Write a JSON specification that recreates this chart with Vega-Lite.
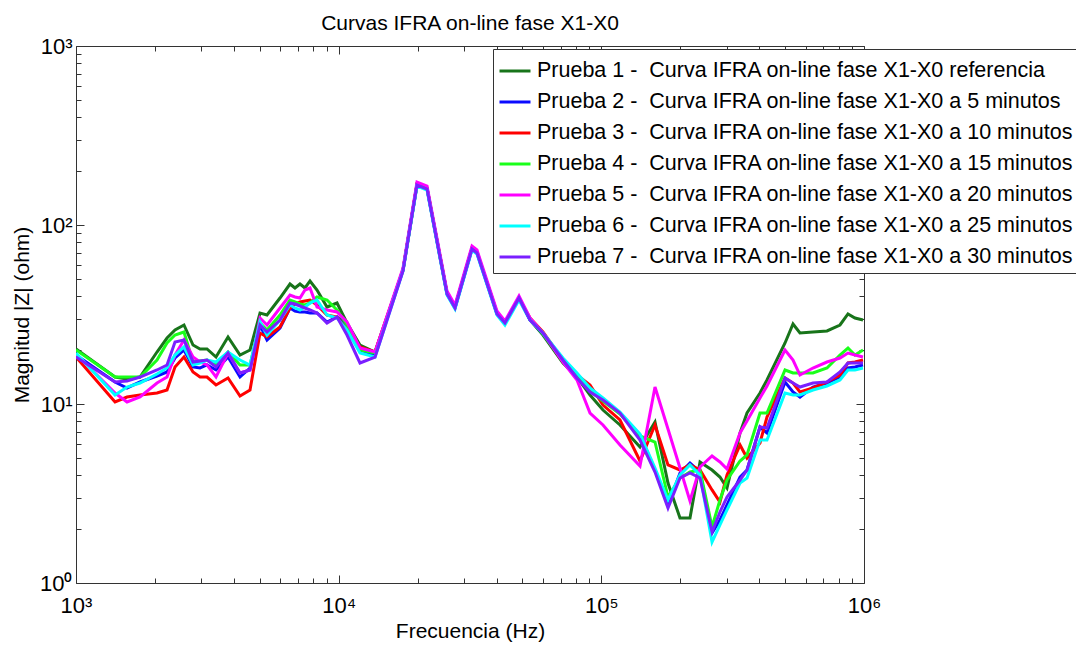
{
  "$schema": "https://vega.github.io/schema/vega-lite/v6.json",
  "width": 788,
  "height": 537,
  "autosize": {"type": "none"},
  "padding": {"left": 76, "top": 46, "right": 212, "bottom": 64},
  "background": "white",
  "config": {"view": {"stroke": null}, "font": "Liberation Sans"},
  "title": {"text": "Curvas IFRA on-line fase X1-X0", "fontSize": 21, "fontWeight": "normal", "anchor": "middle", "frame": "group", "baseline": "alphabetic", "offset": -16, "color": "#000"},
  "datasets": {
    "nombres": [
      {"k": "p1", "serie": "Prueba 1 - \u00a0Curva IFRA on-line fase X1-X0 referencia"},
      {"k": "p2", "serie": "Prueba 2 - \u00a0Curva IFRA on-line fase X1-X0 a 5 minutos"},
      {"k": "p3", "serie": "Prueba 3 - \u00a0Curva IFRA on-line fase X1-X0 a 10 minutos"},
      {"k": "p4", "serie": "Prueba 4 - \u00a0Curva IFRA on-line fase X1-X0 a 15 minutos"},
      {"k": "p5", "serie": "Prueba 5 - \u00a0Curva IFRA on-line fase X1-X0 a 20 minutos"},
      {"k": "p6", "serie": "Prueba 6 - \u00a0Curva IFRA on-line fase X1-X0 a 25 minutos"},
      {"k": "p7", "serie": "Prueba 7 - \u00a0Curva IFRA on-line fase X1-X0 a 30 minutos"}
    ],
    "curvas": [
      {"f": 1000, "p1": 20.29, "p2": 18.78, "p3": 18.30, "p4": 20.03, "p5": 19.03, "p6": 19.27, "p7": 18.30},
      {"f": 1408, "p1": 14.15, "p2": 13.27, "p3": 10.26, "p4": 14.15, "p5": 11.52, "p6": 11.23, "p7": 13.27},
      {"f": 1564, "p1": 13.79, "p2": 12.29, "p3": 10.94, "p4": 14.15, "p5": 10.26, "p6": 12.44, "p7": 13.44},
      {"f": 1753, "p1": 14.15, "p2": 13.27, "p3": 11.23, "p4": 14.15, "p5": 10.94, "p6": 13.10, "p7": 14.15},
      {"f": 2034, "p1": 19.52, "p2": 14.34, "p3": 11.52, "p4": 17.61, "p5": 13.10, "p6": 14.71, "p7": 15.49},
      {"f": 2221, "p1": 23.37, "p2": 15.09, "p3": 11.97, "p4": 21.92, "p5": 14.15, "p6": 15.89, "p7": 16.52},
      {"f": 2382, "p1": 25.91, "p2": 18.07, "p3": 16.10, "p4": 24.29, "p5": 18.78, "p6": 18.78, "p7": 22.20},
      {"f": 2577, "p1": 27.63, "p2": 20.03, "p3": 18.30, "p4": 25.25, "p5": 22.78, "p6": 20.82, "p7": 22.78},
      {"f": 2789, "p1": 21.36, "p2": 16.10, "p3": 15.09, "p4": 17.16, "p5": 18.30, "p6": 16.52, "p7": 17.16},
      {"f": 2966, "p1": 20.29, "p2": 15.89, "p3": 14.15, "p4": 17.39, "p5": 17.16, "p6": 16.95, "p7": 17.39},
      {"f": 3153, "p1": 20.29, "p2": 16.52, "p3": 14.15, "p4": 17.61, "p5": 16.52, "p6": 17.61, "p7": 17.61},
      {"f": 3412, "p1": 18.30, "p2": 15.49, "p3": 12.77, "p4": 16.52, "p5": 14.15, "p6": 17.16, "p7": 16.10},
      {"f": 3791, "p1": 23.68, "p2": 18.30, "p3": 13.97, "p4": 19.52, "p5": 19.27, "p6": 19.52, "p7": 19.27},
      {"f": 4211, "p1": 18.78, "p2": 14.15, "p3": 11.08, "p4": 16.52, "p5": 14.90, "p6": 17.61, "p7": 14.90},
      {"f": 4597, "p1": 20.03, "p2": 15.89, "p3": 11.97, "p4": 16.52, "p5": 15.49, "p6": 16.52, "p7": 15.49},
      {"f": 5018, "p1": 32.24, "p2": 27.63, "p3": 24.93, "p4": 28.35, "p5": 30.23, "p6": 28.71, "p7": 27.63},
      {"f": 5336, "p1": 31.42, "p2": 22.78, "p3": 23.68, "p4": 25.91, "p5": 27.63, "p6": 24.29, "p7": 25.25},
      {"f": 5979, "p1": 39.10, "p2": 26.58, "p3": 26.93, "p4": 31.42, "p5": 34.38, "p6": 29.46, "p7": 29.46},
      {"f": 6526, "p1": 46.81, "p2": 34.38, "p3": 34.38, "p4": 38.11, "p5": 40.64, "p6": 35.73, "p7": 36.66},
      {"f": 6818, "p1": 44.47, "p2": 33.08, "p3": 36.19, "p4": 37.14, "p5": 39.61, "p6": 34.38, "p7": 36.19},
      {"f": 7124, "p1": 46.81, "p2": 32.66, "p3": 37.14, "p4": 36.19, "p5": 39.10, "p6": 33.51, "p7": 35.28},
      {"f": 7443, "p1": 44.47, "p2": 32.66, "p3": 37.62, "p4": 35.73, "p5": 43.34, "p6": 34.82, "p7": 34.38},
      {"f": 7779, "p1": 48.66, "p2": 32.24, "p3": 38.11, "p4": 36.66, "p5": 44.47, "p6": 36.66, "p7": 33.51},
      {"f": 8271, "p1": 43.34, "p2": 32.24, "p3": 35.73, "p4": 39.61, "p5": 34.82, "p6": 38.11, "p7": 32.24},
      {"f": 9028, "p1": 34.82, "p2": 28.71, "p3": 31.42, "p4": 38.11, "p5": 33.51, "p6": 31.42, "p7": 28.35},
      {"f": 9856, "p1": 36.66, "p2": 30.62, "p3": 30.62, "p4": 33.51, "p5": 32.66, "p6": 30.23, "p7": 30.62},
      {"f": 10757, "p1": 28.35, "p2": 27.63, "p3": 25.91, "p4": 27.63, "p5": 28.71, "p6": 25.91, "p7": 24.29},
      {"f": 12056, "p1": 21.36, "p2": 20.03, "p3": 20.82, "p4": 20.03, "p5": 20.55, "p6": 19.27, "p7": 16.95},
      {"f": 13755, "p1": 19.52, "p2": 18.78, "p3": 19.52, "p4": 19.27, "p5": 19.52, "p6": 18.30, "p7": 18.30},
      {"f": 17579, "p1": 56.05, "p2": 56.05, "p3": 56.05, "p4": 56.05, "p5": 57.51, "p6": 55.34, "p7": 55.34},
      {"f": 19870, "p1": 169.45, "p2": 167.29, "p3": 169.45, "p4": 167.29, "p5": 173.87, "p6": 165.15, "p7": 167.29},
      {"f": 21697, "p1": 160.96, "p2": 158.90, "p3": 160.96, "p4": 160.96, "p5": 165.15, "p6": 156.87, "p7": 158.90},
      {"f": 25848, "p1": 41.70, "p2": 41.16, "p3": 41.70, "p4": 41.70, "p5": 42.78, "p6": 40.64, "p7": 41.16},
      {"f": 27728, "p1": 34.82, "p2": 34.38, "p3": 34.82, "p4": 34.82, "p5": 35.73, "p6": 33.94, "p7": 34.38},
      {"f": 32183, "p1": 74.39, "p2": 73.44, "p3": 74.39, "p4": 74.39, "p5": 76.33, "p6": 72.50, "p7": 73.44},
      {"f": 33617, "p1": 70.66, "p2": 69.75, "p3": 70.66, "p4": 70.66, "p5": 72.50, "p6": 68.86, "p7": 69.75},
      {"f": 40061, "p1": 32.24, "p2": 31.83, "p3": 32.24, "p4": 32.24, "p5": 33.08, "p6": 31.42, "p7": 31.83},
      {"f": 42960, "p1": 28.35, "p2": 28.35, "p3": 28.35, "p4": 28.35, "p5": 29.09, "p6": 27.63, "p7": 28.35},
      {"f": 48588, "p1": 39.10, "p2": 39.10, "p3": 39.10, "p4": 39.10, "p5": 40.12, "p6": 38.11, "p7": 39.10},
      {"f": 53510, "p1": 29.46, "p2": 29.46, "p3": 30.23, "p4": 29.46, "p5": 30.23, "p6": 29.46, "p7": 29.46},
      {"f": 59966, "p1": 24.29, "p2": 24.61, "p3": 25.25, "p4": 24.61, "p5": 24.93, "p6": 24.93, "p7": 24.93},
      {"f": 71450, "p1": 16.95, "p2": 17.61, "p3": 17.61, "p4": 17.39, "p5": 17.16, "p6": 18.07, "p7": 17.61},
      {"f": 80780, "p1": 14.15, "p2": 14.52, "p3": 14.52, "p4": 14.34, "p5": 13.62, "p6": 14.90, "p7": 13.97},
      {"f": 90560, "p1": 11.23, "p2": 11.97, "p3": 12.77, "p4": 11.82, "p5": 8.906, "p6": 12.29, "p7": 11.67},
      {"f": 101460, "p1": 9.257, "p2": 10.53, "p3": 9.872, "p4": 10.39, "p5": 7.633, "p6": 10.80, "p7": 10.53},
      {"f": 117760, "p1": 7.633, "p2": 8.906, "p3": 8.140, "p4": 8.793, "p5": 5.901, "p6": 9.022, "p7": 8.906},
      {"f": 140350, "p1": 5.751, "p2": 6.711, "p3": 4.804, "p4": 6.626, "p5": 4.504, "p6": 6.798, "p7": 6.293},
      {"f": 160070, "p1": 7.933, "p2": 4.278, "p3": 7.633, "p4": 6.133, "p5": 12.44, "p6": 4.390, "p7": 4.170},
      {"f": 179380, "p1": 3.619, "p2": 2.727, "p3": 4.563, "p4": 3.023, "p5": 7.250, "p6": 2.909, "p7": 2.624},
      {"f": 199290, "p1": 2.307, "p2": 4.116, "p3": 4.278, "p4": 3.860, "p5": 4.390, "p6": 4.012, "p7": 3.860},
      {"f": 217530, "p1": 2.307, "p2": 4.681, "p3": 4.563, "p4": 4.170, "p5": 2.871, "p6": 4.563, "p7": 4.116},
      {"f": 237500, "p1": 4.742, "p2": 4.170, "p3": 4.278, "p4": 4.278, "p5": 4.447, "p6": 4.012, "p7": 3.860},
      {"f": 263900, "p1": 4.278, "p2": 1.903, "p3": 3.312, "p4": 2.055, "p5": 5.123, "p6": 1.695, "p7": 1.927},
      {"f": 282900, "p1": 3.910, "p2": 2.249, "p3": 2.835, "p4": 2.909, "p5": 4.742, "p6": 2.109, "p7": 2.493},
      {"f": 300900, "p1": 3.394, "p2": 2.727, "p3": 4.012, "p4": 3.762, "p5": 4.334, "p6": 2.558, "p7": 3.023},
      {"f": 337300, "p1": 6.886, "p2": 3.910, "p3": 5.901, "p4": 4.804, "p5": 6.886, "p6": 3.619, "p7": 3.762},
      {"f": 358600, "p1": 8.906, "p2": 4.278, "p3": 4.992, "p4": 5.189, "p5": 8.036, "p6": 3.860, "p7": 4.278},
      {"f": 401800, "p1": 11.52, "p2": 7.439, "p3": 6.055, "p4": 8.906, "p5": 10.80, "p6": 6.293, "p7": 7.439},
      {"f": 427200, "p1": 13.62, "p2": 6.886, "p3": 8.460, "p4": 8.906, "p5": 12.61, "p6": 6.293, "p7": 7.344},
      {"f": 500400, "p1": 21.92, "p2": 13.27, "p3": 13.97, "p4": 15.49, "p5": 20.03, "p6": 11.52, "p7": 13.97},
      {"f": 536700, "p1": 27.98, "p2": 11.67, "p3": 13.10, "p4": 14.90, "p5": 17.61, "p6": 11.23, "p7": 13.10},
      {"f": 570500, "p1": 24.93, "p2": 10.94, "p3": 11.67, "p4": 14.90, "p5": 14.52, "p6": 11.23, "p7": 12.44},
      {"f": 639300, "p1": 25.25, "p2": 12.44, "p3": 12.29, "p4": 14.90, "p5": 15.89, "p6": 11.97, "p7": 13.10},
      {"f": 722900, "p1": 25.58, "p2": 13.10, "p3": 13.27, "p4": 15.89, "p5": 17.16, "p6": 12.61, "p7": 13.27},
      {"f": 810200, "p1": 27.63, "p2": 14.15, "p3": 14.52, "p4": 18.78, "p5": 18.07, "p6": 13.62, "p7": 15.09},
      {"f": 869000, "p1": 31.83, "p2": 15.89, "p3": 16.95, "p4": 20.55, "p5": 19.27, "p6": 15.49, "p7": 16.95},
      {"f": 924000, "p1": 30.23, "p2": 16.10, "p3": 17.16, "p4": 18.78, "p5": 18.78, "p6": 15.49, "p7": 16.95},
      {"f": 991300, "p1": 29.46, "p2": 16.52, "p3": 17.61, "p4": 20.03, "p5": 18.30, "p6": 15.89, "p7": 16.95}
    ]
  },
  "data": {"name": "curvas"},
  "transform": [
    {"fold": ["p1", "p2", "p3", "p4", "p5", "p6", "p7"], "as": ["k", "z"]},
    {"lookup": "k", "from": {"data": {"name": "nombres"}, "key": "k", "fields": ["serie"]}}
  ],
  "resolve": {"axis": {"x": "independent", "y": "independent"}},
  "layer": [
    {
      "mark": {"type": "line", "strokeWidth": 3, "clip": true},
      "encoding": {
        "x": {
          "field": "f", "type": "quantitative",
          "scale": {"type": "log", "domain": [1000, 1000000], "nice": false},
          "axis": {
            "orient": "bottom",
            "values": [1000, 2000, 3000, 4000, 5000, 6000, 7000, 8000, 9000, 10000, 20000, 30000, 40000, 50000, 60000, 70000, 80000, 90000, 100000, 200000, 300000, 400000, 500000, 600000, 700000, 800000, 900000, 1000000],
            "labelExpr": "datum.value == 1000 ? '10³' : datum.value == 10000 ? '10⁴' : datum.value == 100000 ? '10⁵' : datum.value == 1000000 ? '10⁶' : ''",
            "tickSize": {"condition": {"test": "indexof([1000, 10000, 100000, 1000000], datum.value) >= 0", "value": -8}, "value": -5},
            "labelPadding": 20,
            "labelFontSize": 22, "labelColor": "#000", "labelFlush": false, "labelOverlap": false,
            "grid": false,
            "title": "Frecuencia (Hz)", "titleFontSize": 21, "titleFontWeight": "normal", "titleColor": "#000", "titlePadding": 1,
            "domainColor": "#333", "tickColor": "#333"
          }
        },
        "y": {
          "field": "z", "type": "quantitative",
          "scale": {"type": "log", "domain": [1, 1000], "nice": false},
          "axis": {
            "orient": "left",
            "values": [1, 2, 3, 4, 5, 6, 7, 8, 9, 10, 20, 30, 40, 50, 60, 70, 80, 90, 100, 200, 300, 400, 500, 600, 700, 800, 900, 1000],
            "labelExpr": "datum.value == 1 ? '10⁰' : datum.value == 10 ? '10¹' : datum.value == 100 ? '10²' : datum.value == 1000 ? '10³' : ''",
            "tickSize": {"condition": {"test": "indexof([1, 10, 100, 1000], datum.value) >= 0", "value": -8}, "value": -5},
            "labelPadding": 12,
            "labelFontSize": 22, "labelColor": "#000", "labelFlush": false, "labelOverlap": false,
            "grid": false,
            "title": "Magnitud |Z| (ohm)", "titleFontSize": 21, "titleFontWeight": "normal", "titleColor": "#000", "titlePadding": 7,
            "domainColor": "#333", "tickColor": "#333"
          }
        },
        "color": {
          "field": "serie", "type": "nominal",
          "scale": {
            "domain": [
              "Prueba 1 - \u00a0Curva IFRA on-line fase X1-X0 referencia",
              "Prueba 2 - \u00a0Curva IFRA on-line fase X1-X0 a 5 minutos",
              "Prueba 3 - \u00a0Curva IFRA on-line fase X1-X0 a 10 minutos",
              "Prueba 4 - \u00a0Curva IFRA on-line fase X1-X0 a 15 minutos",
              "Prueba 5 - \u00a0Curva IFRA on-line fase X1-X0 a 20 minutos",
              "Prueba 6 - \u00a0Curva IFRA on-line fase X1-X0 a 25 minutos",
              "Prueba 7 - \u00a0Curva IFRA on-line fase X1-X0 a 30 minutos"
            ],
            "range": ["#18741a", "#0a0aff", "#ff0000", "#1aff1a", "#ff00ff", "#00ffff", "#7a1fff"]
          },
          "legend": {
            "orient": "none", "legendX": 417, "legendY": 3, "title": null,
            "symbolType": "stroke", "symbolSize": 961, "symbolStrokeWidth": 3,
            "labelFontSize": 21.5, "labelLimit": 700, "labelOffset": 5, "labelColor": "#000",
            "padding": 5, "rowPadding": 3, "strokeColor": "#333", "fillColor": "#ffffff"
          }
        }
      }
    },
    {
      "mark": {"type": "point", "opacity": 0},
      "encoding": {
        "x": {
          "field": "f", "type": "quantitative",
          "scale": {"type": "log", "domain": [1000, 1000000], "nice": false},
          "axis": {
            "orient": "top",
            "values": [1000, 2000, 3000, 4000, 5000, 6000, 7000, 8000, 9000, 10000, 20000, 30000, 40000, 50000, 60000, 70000, 80000, 90000, 100000, 200000, 300000, 400000, 500000, 600000, 700000, 800000, 900000, 1000000],
            "labels": false, "title": null, "grid": false,
            "tickSize": {"condition": {"test": "indexof([1000, 10000, 100000, 1000000], datum.value) >= 0", "value": -8}, "value": -5},
            "domainColor": "#333", "tickColor": "#333"
          }
        },
        "y": {
          "field": "z", "type": "quantitative",
          "scale": {"type": "log", "domain": [1, 1000], "nice": false},
          "axis": {
            "orient": "right",
            "values": [1, 2, 3, 4, 5, 6, 7, 8, 9, 10, 20, 30, 40, 50, 60, 70, 80, 90, 100, 200, 300, 400, 500, 600, 700, 800, 900, 1000],
            "labels": false, "title": null, "grid": false,
            "tickSize": {"condition": {"test": "indexof([1, 10, 100, 1000], datum.value) >= 0", "value": -8}, "value": -5},
            "domainColor": "#333", "tickColor": "#333"
          }
        }
      }
    }
  ]
}
